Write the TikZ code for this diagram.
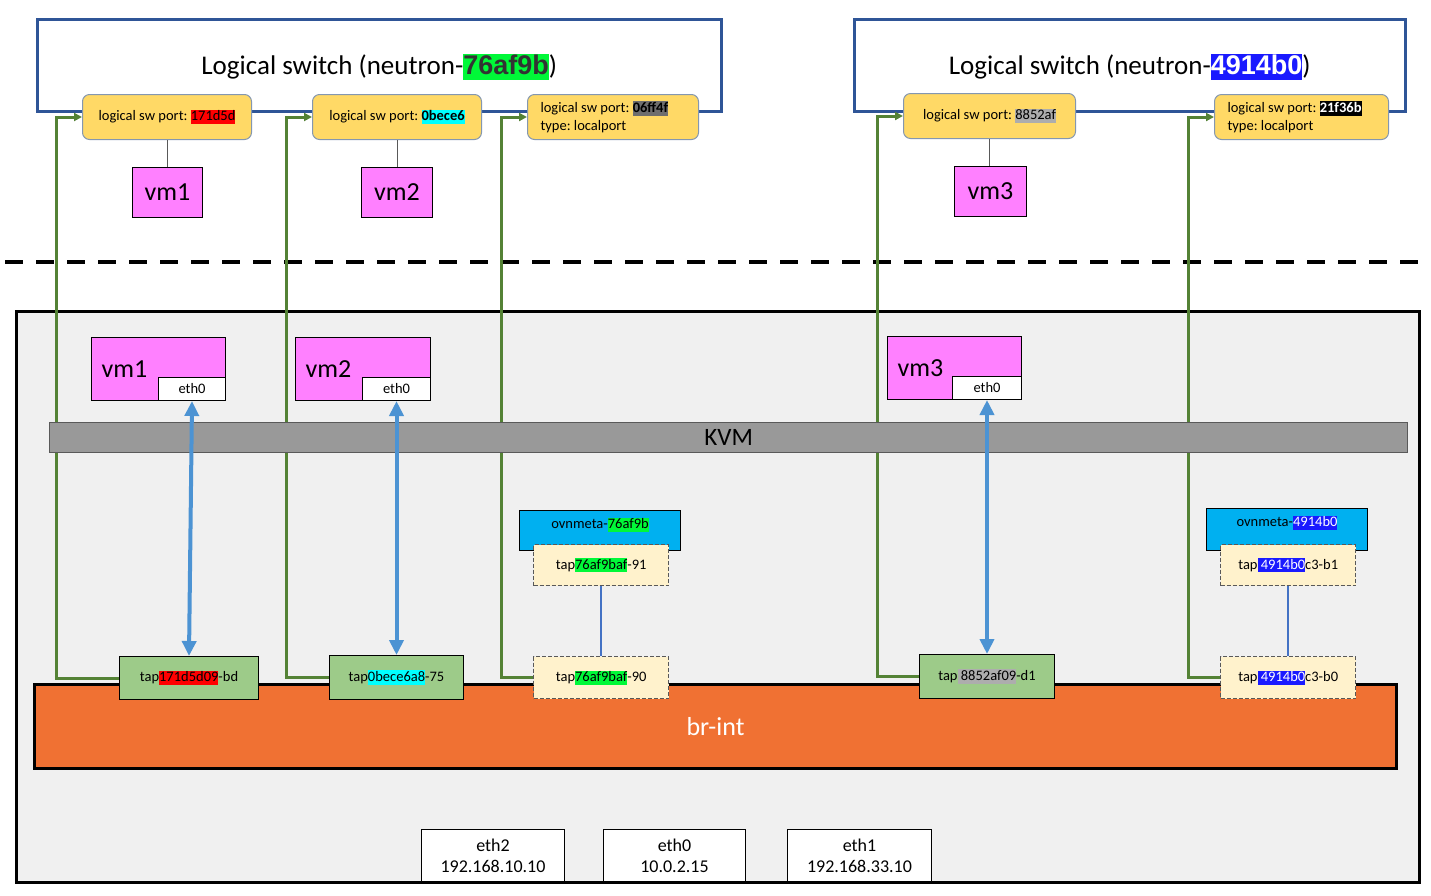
\documentclass[tikz,border=0pt]{standalone}
\usepackage{fontspec}
\setmainfont{Carlito}
\newfontfamily\arialfont{Liberation Sans}
\usetikzlibrary{arrows.meta}
\frenchspacing
\definecolor{swblue}{HTML}{2F5597}
\definecolor{portfill}{HTML}{FFD966}
\definecolor{portdraw}{HTML}{8497B0}
\definecolor{vmfill}{HTML}{FF80FF}
\definecolor{hostfill}{HTML}{F0F0F0}
\definecolor{kvmfill}{HTML}{999999}
\definecolor{kvmdraw}{HTML}{595959}
\definecolor{ovnfill}{HTML}{00B0F0}
\definecolor{tapyel}{HTML}{FFF2CC}
\definecolor{tapgrn}{HTML}{9DCB89}
\definecolor{brfill}{HTML}{F07133}
\definecolor{arrblue}{HTML}{4C93D3}
\definecolor{conngreen}{HTML}{548235}
\definecolor{linkblue}{HTML}{4472C4}
\definecolor{hlred}{HTML}{FF0000}
\definecolor{hlcyan}{HTML}{00FFFF}
\definecolor{hlgreen}{HTML}{00F838}
\definecolor{hlgray}{HTML}{6E6E6E}
\definecolor{hllgray}{HTML}{ADADAD}
\definecolor{hlblue}{HTML}{1A1AFF}
\definecolor{titlegray}{HTML}{333333}
\newcommand\hlt[3]{\begingroup\setlength{\fboxsep}{0pt}\colorbox{#1}{\textcolor{#2}{\rule[-0.22em]{0pt}{0.98em}#3}}\endgroup}
\begin{document}
\begin{tikzpicture}[x=1pt,y=-1pt,
  box/.style={draw, inner sep=0pt, anchor=north west, align=center},
  switchbox/.style={box, draw=swblue, line width=2.5pt, fill=white, font=\fontsize{27}{32}\selectfont, text height=24.5pt, text depth=6pt},
  portbox/.style={box, draw=portdraw, line width=1pt, fill=portfill, rounded corners=7pt, font=\fontsize{14.5}{18}\selectfont},
  vmtop/.style={box, draw=black, line width=1pt, fill=vmfill, font=\fontsize{26}{30}\selectfont},
  vmlow/.style={box, draw=black, line width=1pt, fill=vmfill, font=\fontsize{26}{30}\selectfont, align=flush left, inner xsep=10pt},
  ethbox/.style={box, draw=black, line width=1pt, fill=white, font=\fontsize{14.5}{17}\selectfont},
  hostbox/.style={box, draw=black, line width=3pt, fill=hostfill},
  kvmbox/.style={box, draw=kvmdraw, line width=1.2pt, fill=kvmfill, font=\fontsize{25}{30}\selectfont},
  brbox/.style={box, draw=black, line width=3pt, fill=brfill, text=white, font=\fontsize{26}{30}\selectfont},
  ovnbox/.style={box, draw=black, line width=1pt, fill=ovnfill},
  ovnlabel/.style={font=\fontsize{14.5}{17}\selectfont, anchor=north, yshift=-4pt},
  tapdash/.style={box, draw=kvmdraw, line width=1.4pt, dash pattern=on 4pt off 2pt, fill=tapyel, font=\fontsize{14.5}{17}\selectfont},
  tapsolid/.style={box, draw=black, line width=1pt, fill=tapgrn, font=\fontsize{14.5}{17}\selectfont},
  nicbox/.style={box, draw=black, line width=1pt, fill=white, font=\fontsize{18}{21}\selectfont},
  grnconn/.style={draw=conngreen, line width=3pt, -{Triangle[length=8pt,width=8pt]}},
  vmlink/.style={draw=kvmdraw, line width=1pt},
  bluearrow/.style={draw=arrblue, line width=4pt, {Triangle[length=15pt,width=14pt]}-{Triangle[length=15pt,width=14pt]}},
  taplink/.style={draw=linkblue, line width=2.2pt},
  sepline/.style={draw=black, line width=3.5pt, dash pattern=on 18pt off 13pt}
]
\fill[white] (0,0) rectangle (1431,895);
\useasboundingbox (0,0) rectangle (1431,895);

% host
\node[hostbox, minimum width=1403pt, minimum height=571pt] (host) at (15,310) {};

% separator
\coordinate (sepL) at (5,262);
\coordinate (sepR) at (1431,262);
\draw[sepline] (sepL) -- (sepR);

% logical switches
\node[switchbox, minimum width=684pt, minimum height=92pt] (ls1) at (36,18)
  {Logical switch (neutron-\hlt{hlgreen}{titlegray}{\arialfont\bfseries 76af9b})};
\node[switchbox, minimum width=551pt, minimum height=92pt] (ls2) at (853,18)
  {Logical switch (neutron-\hlt{hlblue}{white}{\arialfont\bfseries 4914b0})};

% ports
\node[portbox, minimum width=169pt, minimum height=45pt] (p1) at (82,94)
  {logical sw port: \hlt{hlred}{black}{171d5d}};
\node[portbox, minimum width=169pt, minimum height=45pt] (p2) at (312,94)
  {logical sw port: \hlt{hlcyan}{black}{\bfseries 0bece6}};
\node[portbox, minimum width=171pt, minimum height=45pt, inner xsep=13pt, text width=145pt, align=flush left] (p3) at (527,94)
  {logical sw port: \hlt{hlgray}{black}{\bfseries 06ff4f}\\type: localport};
\node[portbox, minimum width=172pt, minimum height=45pt] (p4) at (903,93)
  {logical sw port: \hlt{hllgray}{black}{8852af}};
\node[portbox, minimum width=174pt, minimum height=45pt, inner xsep=13pt, text width=148pt, align=flush left] (p5) at (1214,94)
  {logical sw port: \hlt{black}{white}{\bfseries 21f36b}\\type: localport};

% top vms
\node[vmtop, minimum width=70pt, minimum height=50pt] (tvm1) at (132,167) {vm1};
\node[vmtop, minimum width=71pt, minimum height=50pt] (tvm2) at (361,167) {vm2};
\node[vmtop, minimum width=72pt, minimum height=50pt] (tvm3) at (954,166) {vm3};
\draw[vmlink] (p1.south) -- (p1.south |- tvm1.north);
\draw[vmlink] (p2.south) -- (p2.south |- tvm2.north);
\draw[vmlink] (p4.south) -- (p4.south |- tvm3.north);

% taps (positions needed for connectors)
\node[tapsolid, minimum width=139pt, minimum height=43pt] (tap1) at (119,656) {};
\node[tapsolid, minimum width=134pt, minimum height=44pt] (tap2) at (329,655) {};
\node[tapdash, minimum width=135pt, minimum height=42pt] (tapm0) at (533,656) {};
\node[tapsolid, minimum width=135pt, minimum height=44pt] (tap3) at (919,654) {};
\node[tapdash, minimum width=135pt, minimum height=42pt] (tapn0) at (1220,656) {};

% green connectors
\draw[grnconn] (tap1.west) -- ([xshift=-63pt]tap1.west) |- (p1.west);
\draw[grnconn] (tap2.west) -- ([xshift=-43pt]tap2.west) |- (p2.west);
\draw[grnconn] (tapm0.west) -- ([xshift=-32pt]tapm0.west) |- (p3.west);
\draw[grnconn] (tap3.west) -- ([xshift=-42pt]tap3.west) |- (p4.west);
\draw[grnconn] (tapn0.west) -- ([xshift=-32pt]tapn0.west) |- (p5.west);

% lower vms
\node[vmlow, minimum width=134pt, minimum height=63pt, text width=114pt] (vm1) at (91,337) {vm1};
\node[ethbox, minimum width=67pt, minimum height=23pt] (eth1) at (158,377) {eth0};
\node[vmlow, minimum width=135pt, minimum height=63pt, text width=115pt] (vm2) at (295,337) {vm2};
\node[ethbox, minimum width=68pt, minimum height=23pt] (eth2) at (362,377) {eth0};
\node[vmlow, minimum width=134pt, minimum height=63pt, text width=114pt] (vm3) at (887,336) {vm3};
\node[ethbox, minimum width=69pt, minimum height=23pt] (eth3) at (952,376) {eth0};

% KVM
\node[kvmbox, minimum width=1358pt, minimum height=30pt] (kvm) at (49,422) {KVM};

% br-int
\node[brbox, minimum width=1362pt, minimum height=84pt] (brint) at (33,683) {br-int};

% taps on br-int (redraw with text)
\node[tapsolid, minimum width=139pt, minimum height=43pt] at (119,656) {tap\hlt{hlred}{black}{171d5d09}-bd};
\node[tapsolid, minimum width=134pt, minimum height=44pt] at (329,655) {tap\hlt{hlcyan}{black}{0bece6a8}-75};
\node[tapdash, minimum width=135pt, minimum height=42pt] at (533,656) {tap\hlt{hlgreen}{black}{76af9baf}-90};
\node[tapsolid, minimum width=135pt, minimum height=44pt] at (919,654) {tap\hlt{hllgray}{black}{ 8852af09}-d1};
\node[tapdash, minimum width=135pt, minimum height=42pt] at (1220,656) {tap\hlt{hlblue}{white}{ 4914b0}c3-b0};

% ovnmeta namespaces
\node[ovnbox, minimum width=161pt, minimum height=40pt,
  label={[ovnlabel]north:ovnmeta-\hlt{hlgreen}{black}{76af9b}}] (om1) at (519,510) {};
\node[tapdash, minimum width=135pt, minimum height=41pt] (tapm1) at (533,544) {tap\hlt{hlgreen}{black}{76af9baf}-91};
\node[ovnbox, minimum width=161pt, minimum height=42pt,
  label={[ovnlabel]north:ovnmeta-\hlt{hlblue}{white}{4914b0}}] (om2) at (1206,508) {};
\node[tapdash, minimum width=135pt, minimum height=41pt] (tapn1) at (1220,544) {tap\hlt{hlblue}{white}{ 4914b0}c3-b1};

\draw[taplink] (tapm1.south) -- (tapm0.north);
\draw[taplink] (tapn1.south) -- (tapn0.north);

% blue arrows
\draw[bluearrow] (eth1.south) -- (tap1.north);
\draw[bluearrow] (eth2.south) -- (tap2.north);
\draw[bluearrow] (eth3.south) -- (tap3.north);

% host NICs
\node[nicbox, minimum width=143pt, minimum height=52pt] (nic2) at (421,829) {eth2\\192.168.10.10};
\node[nicbox, minimum width=142pt, minimum height=52pt] (nic0) at (603,829) {eth0\\10.0.2.15};
\node[nicbox, minimum width=144pt, minimum height=52pt] (nic1) at (787,829) {eth1\\192.168.33.10};
\end{tikzpicture}
\end{document}
